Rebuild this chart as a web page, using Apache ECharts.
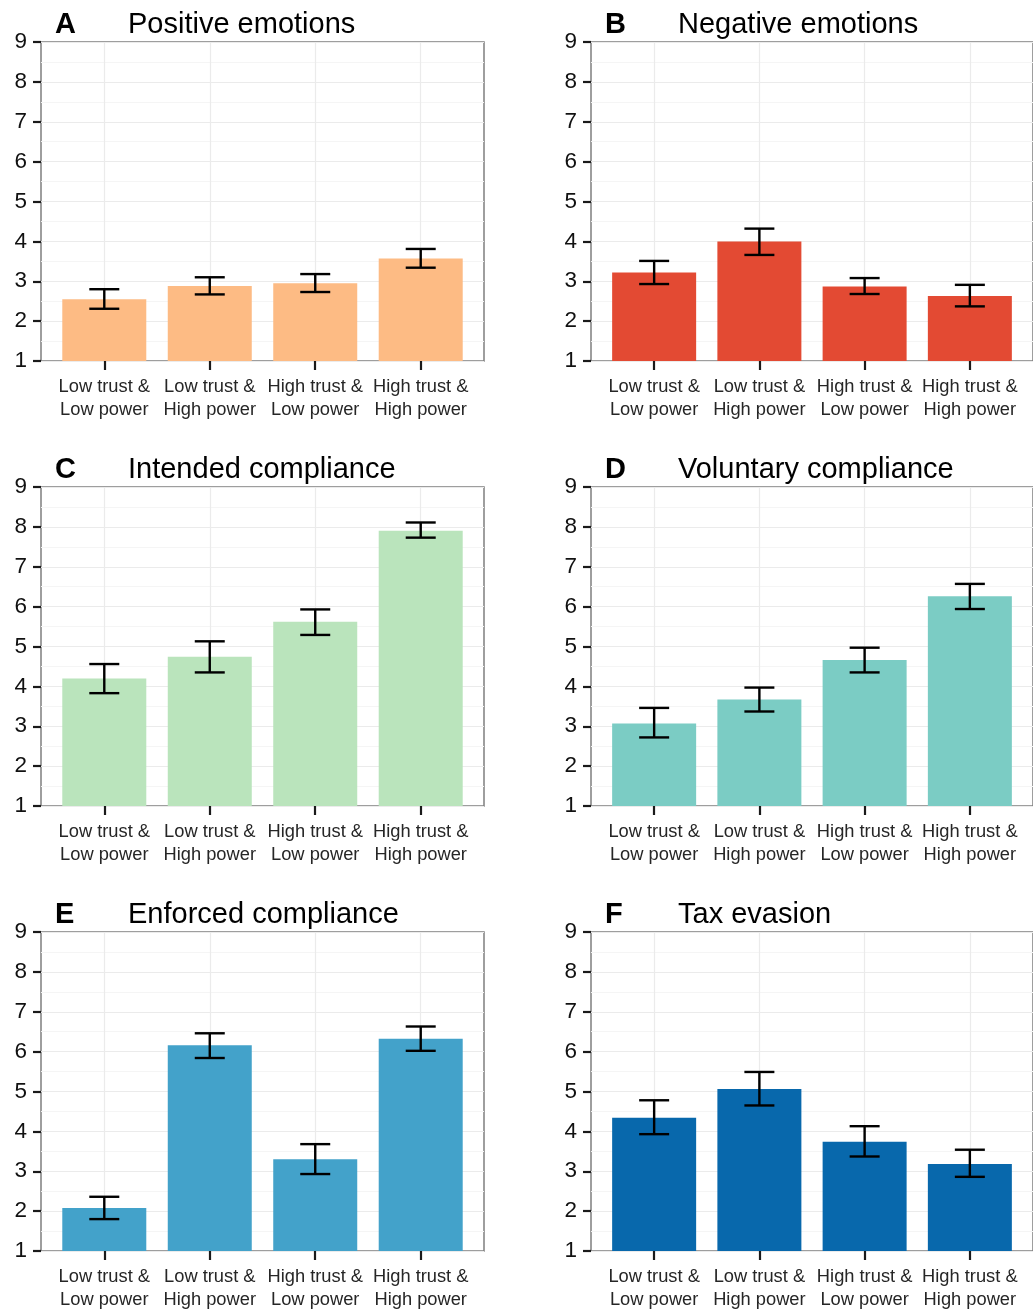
<!DOCTYPE html>
<html>
<head>
<meta charset="utf-8">
<script src="https://cdn.jsdelivr.net/npm/echarts@6/dist/echarts.min.js"></script>
<style>
html,body{margin:0;padding:0;background:#fff;}
#chart{width:1033px;height:1313px;}
</style>
</head>
<body>
<div id="chart"></div>
<script>
// ---- data ----
const categories = ["Low trust &\nLow power", "Low trust &\nHigh power", "High trust &\nLow power", "High trust &\nHigh power"];
const yTicks = [1, 2, 3, 4, 5, 6, 7, 8, 9];

const panelLetters = ["A", "B", "C", "D", "E", "F"];
const panelTitles = ["Positive emotions", "Negative emotions", "Intended compliance", "Voluntary compliance", "Enforced compliance", "Tax evasion"];
const panelColors = ["#fdbb84", "#e34a33", "#bae4bc", "#7bccc4", "#43a2ca", "#0868ac"];

const posMean = [2.55, 2.88, 2.95, 3.57];
const posLow  = [2.31, 2.67, 2.73, 3.34];
const posHigh = [2.80, 3.10, 3.18, 3.81];

const negMean = [3.22, 4.00, 2.87, 2.63];
const negLow  = [2.93, 3.66, 2.68, 2.37];
const negHigh = [3.51, 4.32, 3.08, 2.91];

const intMean = [4.20, 4.74, 5.62, 7.90];
const intLow  = [3.83, 4.35, 5.29, 7.73];
const intHigh = [4.56, 5.13, 5.93, 8.11];

const volMean = [3.07, 3.67, 4.66, 6.26];
const volLow  = [2.72, 3.37, 4.35, 5.94];
const volHigh = [3.46, 3.97, 4.97, 6.57];

const enfMean = [2.08, 6.16, 3.30, 6.32];
const enfLow  = [1.80, 5.84, 2.93, 6.02];
const enfHigh = [2.36, 6.46, 3.68, 6.63];

const taxMean = [4.34, 5.06, 3.74, 3.18];
const taxLow  = [3.93, 4.65, 3.37, 2.86];
const taxHigh = [4.78, 5.49, 4.13, 3.54];

const means = [posMean, negMean, intMean, volMean, enfMean, taxMean];
const lows  = [posLow, negLow, intLow, volLow, enfLow, taxLow];
const highs = [posHigh, negHigh, intHigh, volHigh, enfHigh, taxHigh];

// ---- layout ----
const colLeft = [41, 591];
const rowTop = [42, 487, 932];
const plotW = 443, plotH = 319;
const FONT = "Liberation Sans, Arial, Helvetica, sans-serif";
const catPos = [1, 2, 3, 4];

const chart = echarts.init(document.getElementById('chart'), null, {renderer: 'canvas'});

const grids = [], xAxes = [], yAxes = [], series = [], titles = [];
for (let p = 0; p < 6; p++) {
  const col = p % 2, row = Math.floor(p / 2);
  const left = colLeft[col], top = rowTop[row];
  grids.push({left: left, top: top, width: plotW, height: plotH, show: true,
    borderColor: '#7f7f7f', borderWidth: 1.5, backgroundColor: '#fff', containLabel: false});
  xAxes.push({
    gridIndex: p, type: 'value', min: 0.4, max: 4.6,
    axisLine: {show: false},
    axisTick: {show: true, customValues: catPos, length: 9, inside: false,
      lineStyle: {color: '#1a1a1a', width: 2.2}},
    axisLabel: {show: true, customValues: catPos, margin: 14,
      formatter: v => categories[Math.round(v) - 1] || '',
      color: '#262626', fontSize: 18.3, fontFamily: FONT, lineHeight: 23},
    splitLine: {show: true, lineStyle: {color: '#ebebeb', width: 1.2}},
    minorSplitLine: {show: false}
  });
  yAxes.push({
    gridIndex: p, type: 'value', min: 1, max: 9, interval: 1,
    axisLine: {show: false},
    axisTick: {show: true, length: 8, lineStyle: {color: '#1a1a1a', width: 2.2}},
    axisLabel: {color: '#111', fontSize: 22.5, fontFamily: FONT, margin: 14,
      formatter: v => (yTicks.indexOf(v) >= 0 ? String(v) : '')},
    splitLine: {show: true, lineStyle: {color: '#ebebeb', width: 1.2}},
    minorTick: {show: false, splitNumber: 2},
    minorSplitLine: {show: true, lineStyle: {color: '#f5f5f5', width: 1}}
  });
  series.push({
    type: 'bar', xAxisIndex: p, yAxisIndex: p,
    data: catPos.map((c, i) => [c, means[p][i]]),
    barWidth: 84, itemStyle: {color: panelColors[p]}, clip: true, z: 2,
    silent: true
  });
  series.push({
    type: 'custom', xAxisIndex: p, yAxisIndex: p, z: 5,
    data: catPos.map((c, i) => [c, lows[p][i], highs[p][i]]),
    renderItem: function (params, api) {
      const x = api.value(0);
      const lo = api.coord([x, api.value(1)]);
      const hi = api.coord([x, api.value(2)]);
      const hw = 15;
      const st = {stroke: '#000', lineWidth: 2.4};
      return {type: 'group', children: [
        {type: 'line', shape: {x1: hi[0], y1: hi[1], x2: lo[0], y2: lo[1]}, style: st},
        {type: 'line', shape: {x1: hi[0] - hw, y1: hi[1], x2: hi[0] + hw, y2: hi[1]}, style: st},
        {type: 'line', shape: {x1: lo[0] - hw, y1: lo[1], x2: lo[0] + hw, y2: lo[1]}, style: st}
      ]};
    },
    silent: true
  });
  titles.push({text: panelLetters[p], left: left + 14, top: top - 32, padding: 0,
    textStyle: {fontSize: 29, fontWeight: 'bold', color: '#000', fontFamily: FONT}});
  titles.push({text: panelTitles[p], left: left + 87, top: top - 32, padding: 0,
    textStyle: {fontSize: 29, fontWeight: 'normal', color: '#000', fontFamily: FONT}});
}

chart.setOption({
  animation: false,
  backgroundColor: '#fff',
  title: titles,
  grid: grids,
  xAxis: xAxes,
  yAxis: yAxes,
  series: series
});
</script>
</body>
</html>
